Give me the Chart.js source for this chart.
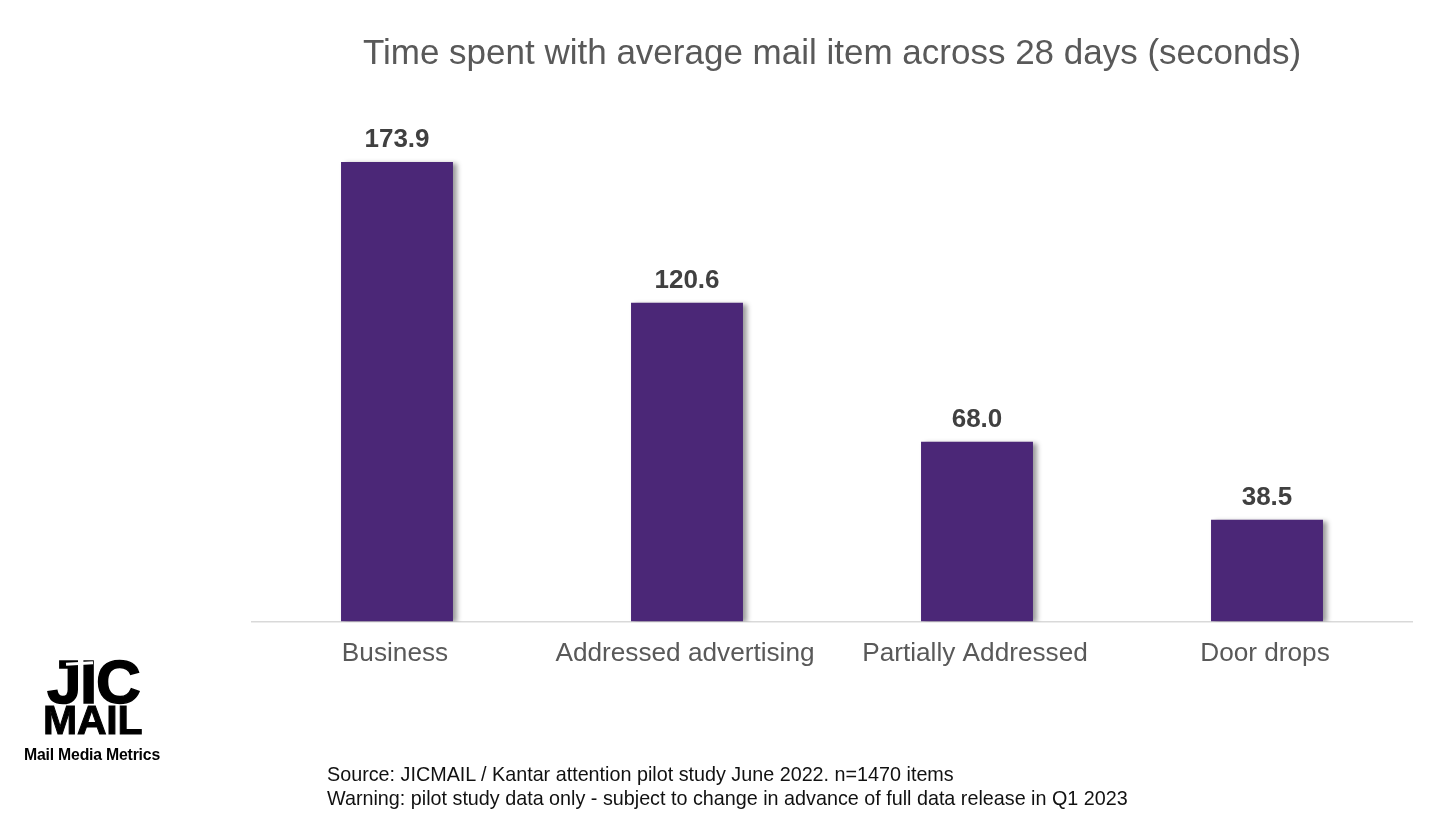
<!DOCTYPE html>
<html><head><meta charset="utf-8">
<script src="https://cdn.jsdelivr.net/npm/chart.js@4/dist/chart.umd.min.js"></script>
<style>
html,body{margin:0;padding:0;background:#fff;overflow:hidden}
#wrap{position:relative;width:1440px;height:820px;font-family:"Liberation Sans",Arial,sans-serif}
canvas{position:absolute;left:0;top:0}
.t{position:absolute;white-space:nowrap;line-height:1}
</style></head><body>
<div id="wrap">
<canvas id="c" width="1440" height="820"></canvas>
<div class="t" style="left:47px;top:651px;font-size:62px;font-weight:700;letter-spacing:-1.4px;color:#000;-webkit-text-stroke:1.5px #000">JIC</div>
<div style="position:absolute;left:66px;top:662px;width:27px;height:3px;background:#fff;transform:rotate(-3deg)"></div>
<div class="t" style="left:43px;top:700px;font-size:41px;font-weight:700;letter-spacing:-0.2px;color:#000;-webkit-text-stroke:1px #000">MAIL</div>
<div class="t" style="left:24px;top:747px;font-size:15.8px;font-weight:700;letter-spacing:-0.2px;color:#000">Mail Media Metrics</div>
<div class="t" style="left:327px;top:765px;font-size:19.75px;color:#111">Source: JICMAIL / Kantar attention pilot study June 2022. n=1470 items</div>
<div class="t" style="left:327px;top:789px;font-size:19.75px;color:#111">Warning: pilot study data only - subject to change in advance of full data release in Q1 2023</div>
</div>
<script>
const categories = ["Business","Addressed advertising","Partially Addressed","Door drops"];
const seconds = [173.9,120.6,68.0,38.5];
const chartTitle = "Time spent with average mail item across 28 days (seconds)";
const FONT = '"Liberation Sans",Arial,sans-serif';

const shadowPlugin = {
  id:'barShadow',
  beforeDatasetDraw(chart){
    const c=chart.ctx; c.save();
    c.shadowColor='rgba(0,0,0,0.4)'; c.shadowBlur=5; c.shadowOffsetX=4; c.shadowOffsetY=1;
  },
  afterDatasetDraw(chart){ chart.ctx.restore(); }
};
const labelPlugin = {
  id:'valueLabels',
  afterDatasetsDraw(chart){
    const c=chart.ctx, meta=chart.getDatasetMeta(0);
    c.save();
    c.font='700 26px '+FONT; c.fillStyle='#404040';
    c.textAlign='center'; c.textBaseline='middle';
    meta.data.forEach((b,i)=>c.fillText(seconds[i].toFixed(1),b.x,b.y-22));
    c.restore();
  }
};
new Chart(document.getElementById('c'),{
  type:'bar',
  data:{labels:categories,datasets:[{data:seconds,backgroundColor:'#4b2777',barPercentage:0.386,categoryPercentage:1}]},
  plugins:[shadowPlugin,labelPlugin],
  options:{
    responsive:false,animation:false,devicePixelRatio:1,
    layout:{padding:{left:252,right:28,top:0,bottom:134}},
    plugins:{
      legend:{display:false},tooltip:{enabled:false},
      title:{display:true,text:chartTitle,color:'#595959',font:{family:FONT,size:35,weight:'400'},padding:{top:33,bottom:18}}
    },
    scales:{
      y:{display:false,min:0,max:200},
      x:{grid:{display:false,drawTicks:false},border:{color:'#d9d9d9',width:1.5},
         ticks:{color:'#595959',font:{family:FONT,size:26.2},padding:16.5,labelOffset:-2,maxRotation:0}}
    }
  }
});
</script>
</body></html>
